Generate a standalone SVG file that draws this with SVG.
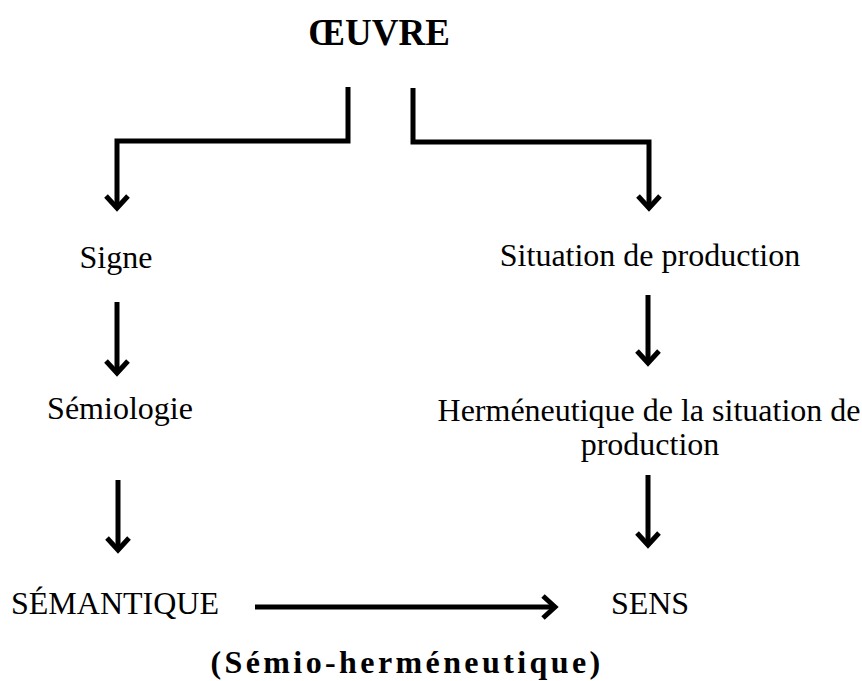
<svg xmlns="http://www.w3.org/2000/svg" width="862" height="681" viewBox="0 0 862 681">
  <style>
    .t { font-family: "Liberation Serif", "Times New Roman", serif; font-size: 32px; fill: #000; text-anchor: middle; }
    .b { font-weight: bold; }
    .title { font-size: 37px; }
    .sub { letter-spacing: 3.4px; }
    .c { fill: none; stroke: #000; stroke-width: 5; stroke-linejoin: miter; stroke-linecap: butt; }
  </style>
  <defs>
    <marker id="ah" markerUnits="userSpaceOnUse" viewBox="-16 -14 20 28" refX="0" refY="0" markerWidth="20" markerHeight="28" orient="auto" overflow="visible">
      <path d="M-12,-11 L0,0 L-12,11" fill="none" stroke="#000" stroke-width="5" stroke-linejoin="miter"/>
    </marker>
  </defs>
  <rect width="862" height="681" fill="#fff"/>

  <g id="connectors">
    <path class="c" d="M348,87 V141 H117 V208" marker-end="url(#ah)"/>
    <path class="c" d="M413,88 V142 H649 V208" marker-end="url(#ah)"/>
    <path class="c" d="M117,302 V373" marker-end="url(#ah)"/>
    <path class="c" d="M118,480 V550" marker-end="url(#ah)"/>
    <path class="c" d="M648,295 V363" marker-end="url(#ah)"/>
    <path class="c" d="M648,475 V545" marker-end="url(#ah)"/>
    <path class="c" d="M255,607 H555" marker-end="url(#ah)"/>
  </g>

  <g id="oeuvre"><text class="t b title" x="379" y="45">ŒUVRE</text></g>
  <g id="signe"><text class="t" x="116" y="268">Signe</text></g>
  <g id="situation"><text class="t" x="650" y="266">Situation de production</text></g>
  <g id="semiologie"><text class="t" x="120" y="419">Sémiologie</text></g>
  <g id="hermeneutique">
    <text class="t" x="649" y="421">Herméneutique de la situation de</text>
    <text class="t" x="650" y="455">production</text>
  </g>
  <g id="semantique"><text class="t" x="115" y="614">SÉMANTIQUE</text></g>
  <g id="sens"><text class="t" x="650" y="614">SENS</text></g>
  <g id="semio-hermeneutique"><text class="t b sub" x="407" y="673">(Sémio-herméneutique)</text></g>
</svg>
